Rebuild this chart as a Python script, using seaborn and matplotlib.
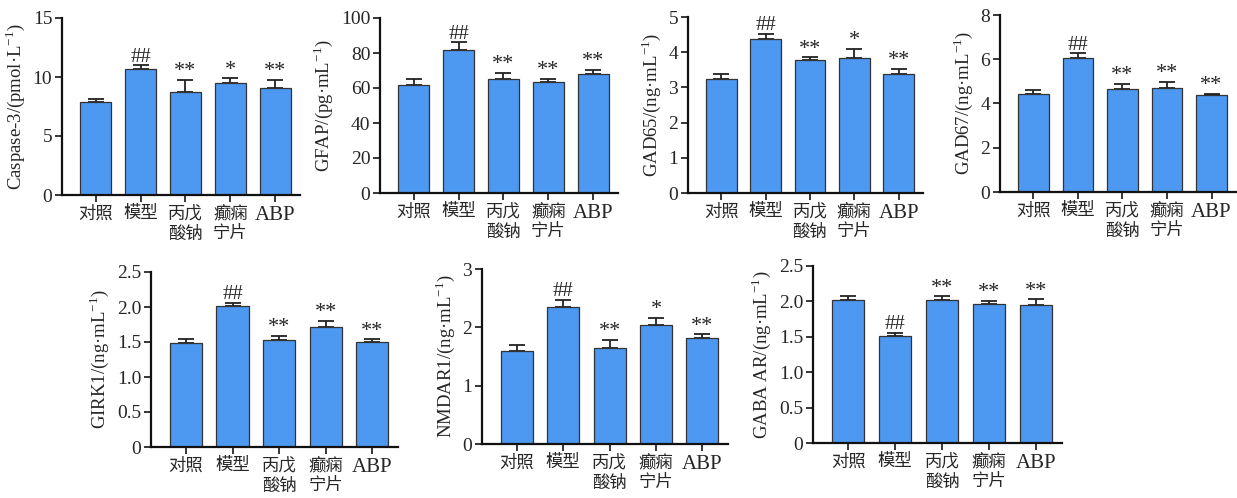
import numpy as np
import matplotlib
matplotlib.use("Agg")
import matplotlib.pyplot as plt
import seaborn as sns

sns.set_style("ticks")
plt.rcParams['font.family'] = ['Liberation Serif', 'Noto Sans CJK SC']
plt.rcParams['mathtext.fontset'] = 'custom'
plt.rcParams['mathtext.rm'] = 'Liberation Serif'
plt.rcParams['axes.unicode_minus'] = False

groups = ["对照", "模型", "丙戊\n酸钠", "癫痫\n宁片", "ABP"]

caspase3 = [7.9, 10.7, 8.7, 9.45, 9.05]
caspase3_err = [0.2, 0.3, 1.05, 0.45, 0.7]
gfap = [61.9, 81.9, 65.3, 63.2, 67.8]
gfap_err = [3.4, 4.2, 3.3, 2.1, 2.5]
gad65 = [3.24, 4.37, 3.77, 3.84, 3.37]
gad65_err = [0.13, 0.15, 0.09, 0.25, 0.15]
gad67 = [4.45, 6.05, 4.66, 4.72, 4.38]
gad67_err = [0.18, 0.21, 0.23, 0.25, 0.07]
girk1 = [1.48, 2.01, 1.53, 1.71, 1.50]
girk1_err = [0.06, 0.05, 0.06, 0.09, 0.04]
nmdar1 = [1.60, 2.35, 1.64, 2.04, 1.82]
nmdar1_err = [0.10, 0.12, 0.15, 0.12, 0.06]
gabaar = [2.02, 1.51, 2.02, 1.97, 1.95]
gabaar_err = [0.06, 0.05, 0.05, 0.04, 0.08]

panels = [
    ("Caspase-3/(pmol·L$^{-1}$)", caspase3, caspase3_err, [0, 5, 10, 15], ["0", "5", "10", "15"],
     ["", "##", "**", "*", "**"], (62, 300, 18, 195)),
    ("GFAP/(pg·mL$^{-1}$)", gfap, gfap_err, [0, 20, 40, 60, 80, 100], ["0", "20", "40", "60", "80", "100"],
     ["", "##", "**", "**", "**"], (380, 618, 18, 193)),
    ("GAD65/(ng·mL$^{-1}$)", gad65, gad65_err, [0, 1, 2, 3, 4, 5], ["0", "1", "2", "3", "4", "5"],
     ["", "##", "**", "*", "**"], (688, 923, 17, 193)),
    ("GAD67/(ng·mL$^{-1}$)", gad67, gad67_err, [0, 2, 4, 6, 8], ["0", "2", "4", "6", "8"],
     ["", "##", "**", "**", "**"], (1000, 1236, 15, 192)),
    ("GIRK1/(ng·mL$^{-1}$)", girk1, girk1_err, [0, 0.5, 1.0, 1.5, 2.0, 2.5], ["0", "0.5", "1.0", "1.5", "2.0", "2.5"],
     ["", "##", "**", "**", "**"], (151, 398, 272, 447)),
    ("NMDAR1/(ng·mL$^{-1}$)", nmdar1, nmdar1_err, [0, 1, 2, 3], ["0", "1", "2", "3"],
     ["", "##", "**", "*", "**"], (482, 728, 269, 444)),
    ("GABA AR/(ng·mL$^{-1}$)", gabaar, gabaar_err, [0, 0.5, 1.0, 1.5, 2.0, 2.5], ["0", "0.5", "1.0", "1.5", "2.0", "2.5"],
     ["", "##", "**", "**", "**"], (813, 1062, 266, 443)),
]

W, H = 1237, 498
fig = plt.figure(figsize=(W / 100, H / 100), dpi=100)

for label, vals, errs, ticks, ticklabels, marks, (x0, x1, y0, y1) in panels:
    ax = fig.add_axes([x0 / W, 1 - y1 / H, (x1 - x0) / W, (y1 - y0) / H])
    sns.barplot(x=groups, y=vals, ax=ax, color="#4D98F0", saturation=1,
                width=0.69, edgecolor="#333333", linewidth=0.9, zorder=2)
    xs = np.arange(len(groups))
    ax.errorbar(xs, vals, yerr=[np.zeros(len(vals)), errs], fmt="none",
                ecolor="#222222", elinewidth=1.3, capsize=5.5, capthick=1.3, zorder=1)
    for x, v, e, m in zip(xs, vals, errs, marks):
        if m:
            ax.annotate(m, (x, v + e), xytext=(0, -1), textcoords="offset points",
                        ha="center", va="bottom", fontsize=15 if m.startswith("#") else 16)
    ax.set_xlim(-0.75, 4.55)
    ax.set_ylim(0, ticks[-1])
    ax.set_yticks(ticks)
    ax.set_yticklabels(ticklabels)
    ax.set_ylabel(label, fontsize=13.5, labelpad=4)
    ax.tick_params(axis="y", labelsize=14, width=1.3, length=5, direction="out", pad=2)
    ax.tick_params(axis="x", labelsize=12.5, width=1.3, length=5, direction="out", pad=3)
    for lab in ax.get_xticklabels():
        lab.set_linespacing(1.3)
        if lab.get_text() == "ABP":
            lab.set_fontsize(15)
    sns.despine(ax=ax)
    for s in ["left", "bottom"]:
        ax.spines[s].set_linewidth(1.6)
        ax.spines[s].set_color("#111111")
    ax.set_facecolor("none")

fig.savefig("out.png", dpi=100)
